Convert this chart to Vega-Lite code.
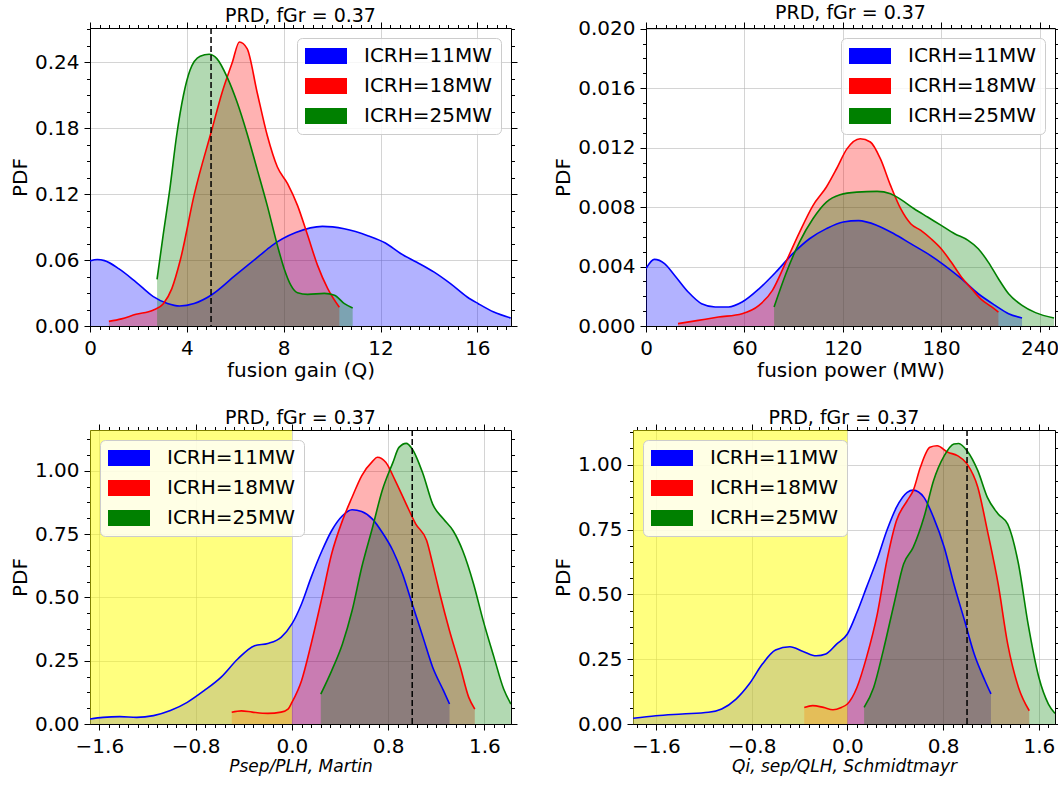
{
"$schema": "https://vega.github.io/schema/vega-lite/v6.json",
"padding": {"left": 10, "top": 3, "right": 2, "bottom": 2},
"background": "white",
"datasets": {
"p1": [
{"s":"ICRH=11MW","x":0,"y":0.0592},{"s":"ICRH=11MW","x":0.3,"y":0.0605},{"s":"ICRH=11MW","x":0.6,"y":0.0595},{"s":"ICRH=11MW","x":1.2,"y":0.052},{"s":"ICRH=11MW","x":1.9,"y":0.040},{"s":"ICRH=11MW","x":2.6,"y":0.027},{"s":"ICRH=11MW","x":3.2,"y":0.0205},{"s":"ICRH=11MW","x":3.7,"y":0.0182},{"s":"ICRH=11MW","x":4.3,"y":0.0205},{"s":"ICRH=11MW","x":5.0,"y":0.028},{"s":"ICRH=11MW","x":6.0,"y":0.046},{"s":"ICRH=11MW","x":7.0,"y":0.064},{"s":"ICRH=11MW","x":7.5,"y":0.073},{"s":"ICRH=11MW","x":8.5,"y":0.085},{"s":"ICRH=11MW","x":9.6,"y":0.0907},{"s":"ICRH=11MW","x":10.5,"y":0.0885},{"s":"ICRH=11MW","x":11.5,"y":0.082},{"s":"ICRH=11MW","x":12.2,"y":0.0755},{"s":"ICRH=11MW","x":12.83,"y":0.066},{"s":"ICRH=11MW","x":13.5,"y":0.058},{"s":"ICRH=11MW","x":14.2,"y":0.0492},{"s":"ICRH=11MW","x":14.89,"y":0.0385},{"s":"ICRH=11MW","x":15.58,"y":0.0264},{"s":"ICRH=11MW","x":16.04,"y":0.0203},{"s":"ICRH=11MW","x":16.68,"y":0.0127},{"s":"ICRH=11MW","x":17.38,"y":0.0073},
{"s":"ICRH=18MW","x":0.78,"y":0.0042},{"s":"ICRH=18MW","x":1.3,"y":0.0065},{"s":"ICRH=18MW","x":1.9,"y":0.0106},{"s":"ICRH=18MW","x":2.6,"y":0.0143},{"s":"ICRH=18MW","x":3.03,"y":0.0203},{"s":"ICRH=18MW","x":3.38,"y":0.034},{"s":"ICRH=18MW","x":3.73,"y":0.06},{"s":"ICRH=18MW","x":4.31,"y":0.12},{"s":"ICRH=18MW","x":5.05,"y":0.18},{"s":"ICRH=18MW","x":5.45,"y":0.212},{"s":"ICRH=18MW","x":5.88,"y":0.24},{"s":"ICRH=18MW","x":6.17,"y":0.2585},{"s":"ICRH=18MW","x":6.49,"y":0.2525},{"s":"ICRH=18MW","x":6.9,"y":0.213},{"s":"ICRH=18MW","x":7.32,"y":0.1736},{"s":"ICRH=18MW","x":7.74,"y":0.1447},{"s":"ICRH=18MW","x":8.16,"y":0.1296},{"s":"ICRH=18MW","x":8.57,"y":0.1098},{"s":"ICRH=18MW","x":8.99,"y":0.0825},{"s":"ICRH=18MW","x":9.4,"y":0.0552},{"s":"ICRH=18MW","x":9.82,"y":0.034},{"s":"ICRH=18MW","x":10.3,"y":0.017},
{"s":"ICRH=25MW","x":2.77,"y":0.0425},{"s":"ICRH=25MW","x":3.02,"y":0.0825},{"s":"ICRH=25MW","x":3.3,"y":0.125},{"s":"ICRH=25MW","x":3.58,"y":0.1736},{"s":"ICRH=25MW","x":3.86,"y":0.21},{"s":"ICRH=25MW","x":4.13,"y":0.2327},{"s":"ICRH=25MW","x":4.55,"y":0.2455},{"s":"ICRH=25MW","x":4.92,"y":0.2473},{"s":"ICRH=25MW","x":5.24,"y":0.2433},{"s":"ICRH=25MW","x":5.66,"y":0.2267},{"s":"ICRH=25MW","x":6.07,"y":0.204},{"s":"ICRH=25MW","x":6.49,"y":0.175},{"s":"ICRH=25MW","x":6.9,"y":0.143},{"s":"ICRH=25MW","x":7.32,"y":0.1098},{"s":"ICRH=25MW","x":7.74,"y":0.0734},{"s":"ICRH=25MW","x":8.02,"y":0.0522},{"s":"ICRH=25MW","x":8.3,"y":0.037},{"s":"ICRH=25MW","x":8.57,"y":0.0303},{"s":"ICRH=25MW","x":8.99,"y":0.0288},{"s":"ICRH=25MW","x":9.68,"y":0.0297},{"s":"ICRH=25MW","x":10.1,"y":0.028},{"s":"ICRH=25MW","x":10.51,"y":0.0203},{"s":"ICRH=25MW","x":10.85,"y":0.0164}
],
"p2": [
{"s":"ICRH=11MW","x":0,"y":0.00386},{"s":"ICRH=11MW","x":5.1,"y":0.00448},{"s":"ICRH=11MW","x":11.3,"y":0.0042},{"s":"ICRH=11MW","x":17.5,"y":0.0034},{"s":"ICRH=11MW","x":25.7,"y":0.00229},{"s":"ICRH=11MW","x":33.9,"y":0.0015},{"s":"ICRH=11MW","x":42.2,"y":0.00128},{"s":"ICRH=11MW","x":50.4,"y":0.00128},{"s":"ICRH=11MW","x":58.6,"y":0.00161},{"s":"ICRH=11MW","x":68.9,"y":0.0025},{"s":"ICRH=11MW","x":79.2,"y":0.00363},{"s":"ICRH=11MW","x":89.5,"y":0.00487},{"s":"ICRH=11MW","x":99.7,"y":0.00587},{"s":"ICRH=11MW","x":110,"y":0.00655},{"s":"ICRH=11MW","x":120.3,"y":0.007},{"s":"ICRH=11MW","x":129.6,"y":0.00709},{"s":"ICRH=11MW","x":140.9,"y":0.00677},{"s":"ICRH=11MW","x":151.2,"y":0.00621},{"s":"ICRH=11MW","x":161.4,"y":0.00554},{"s":"ICRH=11MW","x":171.7,"y":0.00487},{"s":"ICRH=11MW","x":182,"y":0.00408},{"s":"ICRH=11MW","x":192.3,"y":0.00318},{"s":"ICRH=11MW","x":202.6,"y":0.00217},{"s":"ICRH=11MW","x":212.9,"y":0.00139},{"s":"ICRH=11MW","x":221.1,"y":0.00083},{"s":"ICRH=11MW","x":229.3,"y":0.00054},
{"s":"ICRH=18MW","x":19.5,"y":0.00016},{"s":"ICRH=18MW","x":31.9,"y":0.00038},{"s":"ICRH=18MW","x":44.2,"y":0.0006},{"s":"ICRH=18MW","x":58.6,"y":0.00083},{"s":"ICRH=18MW","x":68.9,"y":0.00139},{"s":"ICRH=18MW","x":77.1,"y":0.0024},{"s":"ICRH=18MW","x":85.3,"y":0.0043},{"s":"ICRH=18MW","x":93.6,"y":0.0063},{"s":"ICRH=18MW","x":101.8,"y":0.0081},{"s":"ICRH=18MW","x":110,"y":0.00935},{"s":"ICRH=18MW","x":116.2,"y":0.01058},{"s":"ICRH=18MW","x":122.4,"y":0.0119},{"s":"ICRH=18MW","x":130.6,"y":0.0126},{"s":"ICRH=18MW","x":136.8,"y":0.01238},{"s":"ICRH=18MW","x":142.9,"y":0.01126},{"s":"ICRH=18MW","x":149.1,"y":0.00946},{"s":"ICRH=18MW","x":155.3,"y":0.00789},{"s":"ICRH=18MW","x":161.4,"y":0.00688},{"s":"ICRH=18MW","x":167.6,"y":0.00643},{"s":"ICRH=18MW","x":173.8,"y":0.00587},{"s":"ICRH=18MW","x":180,"y":0.0052},{"s":"ICRH=18MW","x":186.1,"y":0.0043},{"s":"ICRH=18MW","x":192.3,"y":0.0033},{"s":"ICRH=18MW","x":198.5,"y":0.00251},{"s":"ICRH=18MW","x":204.6,"y":0.00177},{"s":"ICRH=18MW","x":210.8,"y":0.00128},{"s":"ICRH=18MW","x":214.9,"y":0.00094},
{"s":"ICRH=25MW","x":78.1,"y":0.00128},{"s":"ICRH=25MW","x":85.3,"y":0.00352},{"s":"ICRH=25MW","x":93.6,"y":0.00565},{"s":"ICRH=25MW","x":101.8,"y":0.00722},{"s":"ICRH=25MW","x":110,"y":0.00834},{"s":"ICRH=25MW","x":118.3,"y":0.00883},{"s":"ICRH=25MW","x":128.5,"y":0.00901},{"s":"ICRH=25MW","x":140.9,"y":0.00906},{"s":"ICRH=25MW","x":149.1,"y":0.0089},{"s":"ICRH=25MW","x":155.3,"y":0.00852},{"s":"ICRH=25MW","x":163.5,"y":0.00789},{"s":"ICRH=25MW","x":171.7,"y":0.00733},{"s":"ICRH=25MW","x":180,"y":0.00677},{"s":"ICRH=25MW","x":188.2,"y":0.00621},{"s":"ICRH=25MW","x":196.4,"y":0.00576},{"s":"ICRH=25MW","x":202.6,"y":0.0052},{"s":"ICRH=25MW","x":208.7,"y":0.0043},{"s":"ICRH=25MW","x":214.9,"y":0.00318},{"s":"ICRH=25MW","x":221.1,"y":0.00217},{"s":"ICRH=25MW","x":229.3,"y":0.00139},{"s":"ICRH=25MW","x":237.5,"y":0.0009},{"s":"ICRH=25MW","x":248.8,"y":0.00054}
],
"p3": [
{"s":"ICRH=11MW","x":-1.678,"y":0.0197},{"s":"ICRH=11MW","x":-1.57,"y":0.026},{"s":"ICRH=11MW","x":-1.43,"y":0.029},{"s":"ICRH=11MW","x":-1.29,"y":0.026},{"s":"ICRH=11MW","x":-1.15,"y":0.033},{"s":"ICRH=11MW","x":-1.01,"y":0.053},{"s":"ICRH=11MW","x":-0.87,"y":0.0855},{"s":"ICRH=11MW","x":-0.73,"y":0.1316},{"s":"ICRH=11MW","x":-0.59,"y":0.184},{"s":"ICRH=11MW","x":-0.45,"y":0.2566},{"s":"ICRH=11MW","x":-0.31,"y":0.309},{"s":"ICRH=11MW","x":-0.2,"y":0.318},{"s":"ICRH=11MW","x":-0.09,"y":0.342},{"s":"ICRH=11MW","x":0,"y":0.395},{"s":"ICRH=11MW","x":0.08,"y":0.474},{"s":"ICRH=11MW","x":0.16,"y":0.579},{"s":"ICRH=11MW","x":0.25,"y":0.684},{"s":"ICRH=11MW","x":0.33,"y":0.763},{"s":"ICRH=11MW","x":0.42,"y":0.822},{"s":"ICRH=11MW","x":0.5,"y":0.846},{"s":"ICRH=11MW","x":0.58,"y":0.839},{"s":"ICRH=11MW","x":0.67,"y":0.809},{"s":"ICRH=11MW","x":0.75,"y":0.757},{"s":"ICRH=11MW","x":0.84,"y":0.684},{"s":"ICRH=11MW","x":0.92,"y":0.592},{"s":"ICRH=11MW","x":1.0,"y":0.474},{"s":"ICRH=11MW","x":1.09,"y":0.342},{"s":"ICRH=11MW","x":1.17,"y":0.224},{"s":"ICRH=11MW","x":1.26,"y":0.1316},{"s":"ICRH=11MW","x":1.31,"y":0.079},
{"s":"ICRH=18MW","x":-0.5,"y":0.046},{"s":"ICRH=18MW","x":-0.42,"y":0.052},{"s":"ICRH=18MW","x":-0.33,"y":0.047},{"s":"ICRH=18MW","x":-0.2,"y":0.042},{"s":"ICRH=18MW","x":-0.09,"y":0.047},{"s":"ICRH=18MW","x":-0.03,"y":0.06},{"s":"ICRH=18MW","x":0,"y":0.085},{"s":"ICRH=18MW","x":0.08,"y":0.171},{"s":"ICRH=18MW","x":0.16,"y":0.316},{"s":"ICRH=18MW","x":0.25,"y":0.5},{"s":"ICRH=18MW","x":0.33,"y":0.671},{"s":"ICRH=18MW","x":0.42,"y":0.803},{"s":"ICRH=18MW","x":0.5,"y":0.895},{"s":"ICRH=18MW","x":0.58,"y":0.98},{"s":"ICRH=18MW","x":0.67,"y":1.037},{"s":"ICRH=18MW","x":0.71,"y":1.053},{"s":"ICRH=18MW","x":0.78,"y":1.033},{"s":"ICRH=18MW","x":0.86,"y":0.96},{"s":"ICRH=18MW","x":0.95,"y":0.868},{"s":"ICRH=18MW","x":1.03,"y":0.789},{"s":"ICRH=18MW","x":1.12,"y":0.724},{"s":"ICRH=18MW","x":1.17,"y":0.632},{"s":"ICRH=18MW","x":1.23,"y":0.513},{"s":"ICRH=18MW","x":1.31,"y":0.368},{"s":"ICRH=18MW","x":1.4,"y":0.224},{"s":"ICRH=18MW","x":1.47,"y":0.105},{"s":"ICRH=18MW","x":1.52,"y":0.059},
{"s":"ICRH=25MW","x":0.24,"y":0.118},{"s":"ICRH=25MW","x":0.33,"y":0.21},{"s":"ICRH=25MW","x":0.42,"y":0.316},{"s":"ICRH=25MW","x":0.5,"y":0.447},{"s":"ICRH=25MW","x":0.58,"y":0.618},{"s":"ICRH=25MW","x":0.67,"y":0.776},{"s":"ICRH=25MW","x":0.75,"y":0.921},{"s":"ICRH=25MW","x":0.84,"y":1.033},{"s":"ICRH=25MW","x":0.89,"y":1.092},{"s":"ICRH=25MW","x":0.95,"y":1.108},{"s":"ICRH=25MW","x":1.0,"y":1.086},{"s":"ICRH=25MW","x":1.09,"y":0.987},{"s":"ICRH=25MW","x":1.17,"y":0.868},{"s":"ICRH=25MW","x":1.26,"y":0.809},{"s":"ICRH=25MW","x":1.34,"y":0.763},{"s":"ICRH=25MW","x":1.42,"y":0.684},{"s":"ICRH=25MW","x":1.51,"y":0.553},{"s":"ICRH=25MW","x":1.59,"y":0.408},{"s":"ICRH=25MW","x":1.68,"y":0.263},{"s":"ICRH=25MW","x":1.76,"y":0.138},{"s":"ICRH=25MW","x":1.82,"y":0.079}
],
"p4": [
{"s":"ICRH=11MW","x":-1.79,"y":0.022},{"s":"ICRH=11MW","x":-1.6,"y":0.032},{"s":"ICRH=11MW","x":-1.38,"y":0.0386},{"s":"ICRH=11MW","x":-1.16,"y":0.045},{"s":"ICRH=11MW","x":-1.05,"y":0.058},{"s":"ICRH=11MW","x":-0.93,"y":0.096},{"s":"ICRH=11MW","x":-0.82,"y":0.154},{"s":"ICRH=11MW","x":-0.71,"y":0.231},{"s":"ICRH=11MW","x":-0.6,"y":0.285},{"s":"ICRH=11MW","x":-0.48,"y":0.298},{"s":"ICRH=11MW","x":-0.37,"y":0.28},{"s":"ICRH=11MW","x":-0.26,"y":0.263},{"s":"ICRH=11MW","x":-0.18,"y":0.27},{"s":"ICRH=11MW","x":-0.09,"y":0.308},{"s":"ICRH=11MW","x":0,"y":0.347},{"s":"ICRH=11MW","x":0.08,"y":0.43},{"s":"ICRH=11MW","x":0.16,"y":0.527},{"s":"ICRH=11MW","x":0.25,"y":0.636},{"s":"ICRH=11MW","x":0.33,"y":0.746},{"s":"ICRH=11MW","x":0.41,"y":0.835},{"s":"ICRH=11MW","x":0.5,"y":0.893},{"s":"ICRH=11MW","x":0.55,"y":0.902},{"s":"ICRH=11MW","x":0.64,"y":0.874},{"s":"ICRH=11MW","x":0.72,"y":0.797},{"s":"ICRH=11MW","x":0.81,"y":0.681},{"s":"ICRH=11MW","x":0.89,"y":0.54},{"s":"ICRH=11MW","x":0.98,"y":0.398},{"s":"ICRH=11MW","x":1.06,"y":0.27},{"s":"ICRH=11MW","x":1.15,"y":0.167},{"s":"ICRH=11MW","x":1.2,"y":0.116},
{"s":"ICRH=18MW","x":-0.36,"y":0.064},{"s":"ICRH=18MW","x":-0.29,"y":0.071},{"s":"ICRH=18MW","x":-0.2,"y":0.064},{"s":"ICRH=18MW","x":-0.12,"y":0.055},{"s":"ICRH=18MW","x":-0.05,"y":0.064},{"s":"ICRH=18MW","x":0,"y":0.077},{"s":"ICRH=18MW","x":0.08,"y":0.141},{"s":"ICRH=18MW","x":0.16,"y":0.257},{"s":"ICRH=18MW","x":0.25,"y":0.424},{"s":"ICRH=18MW","x":0.33,"y":0.63},{"s":"ICRH=18MW","x":0.41,"y":0.784},{"s":"ICRH=18MW","x":0.5,"y":0.861},{"s":"ICRH=18MW","x":0.55,"y":0.9},{"s":"ICRH=18MW","x":0.61,"y":0.99},{"s":"ICRH=18MW","x":0.69,"y":1.067},{"s":"ICRH=18MW","x":0.75,"y":1.073},{"s":"ICRH=18MW","x":0.84,"y":1.048},{"s":"ICRH=18MW","x":0.92,"y":1.035},{"s":"ICRH=18MW","x":1.0,"y":1.003},{"s":"ICRH=18MW","x":1.09,"y":0.913},{"s":"ICRH=18MW","x":1.17,"y":0.746},{"s":"ICRH=18MW","x":1.26,"y":0.54},{"s":"ICRH=18MW","x":1.34,"y":0.308},{"s":"ICRH=18MW","x":1.43,"y":0.141},{"s":"ICRH=18MW","x":1.52,"y":0.051},
{"s":"ICRH=25MW","x":0.14,"y":0.064},{"s":"ICRH=25MW","x":0.22,"y":0.141},{"s":"ICRH=25MW","x":0.3,"y":0.283},{"s":"ICRH=25MW","x":0.39,"y":0.463},{"s":"ICRH=25MW","x":0.47,"y":0.617},{"s":"ICRH=25MW","x":0.55,"y":0.681},{"s":"ICRH=25MW","x":0.64,"y":0.797},{"s":"ICRH=25MW","x":0.72,"y":0.938},{"s":"ICRH=25MW","x":0.81,"y":1.035},{"s":"ICRH=25MW","x":0.89,"y":1.08},{"s":"ICRH=25MW","x":0.93,"y":1.082},{"s":"ICRH=25MW","x":1.0,"y":1.054},{"s":"ICRH=25MW","x":1.09,"y":0.977},{"s":"ICRH=25MW","x":1.17,"y":0.874},{"s":"ICRH=25MW","x":1.26,"y":0.81},{"s":"ICRH=25MW","x":1.34,"y":0.771},{"s":"ICRH=25MW","x":1.43,"y":0.617},{"s":"ICRH=25MW","x":1.51,"y":0.386},{"s":"ICRH=25MW","x":1.6,"y":0.18},{"s":"ICRH=25MW","x":1.68,"y":0.077},{"s":"ICRH=25MW","x":1.735,"y":0.041}
]
},
"bounds": "full",
"spacing": 28,
"resolve": {"scale": {"color": "independent"}},
"vconcat": [
{
"hconcat": [
{
"width": 421, "height": 298,
"title": {"text": "PRD, fGr = 0.37"},
"data": {"name": "p1"},
"resolve": {"axis": {"x": "independent", "y": "independent"}},
"layer": [
{"mark": {"type": "area", "fillOpacity": 0.3, "interpolate": "monotone", "clip": true},
 "encoding": {
  "x": {"field": "x", "type": "quantitative", "scale": {"domain": [0, 17.39], "nice": false, "zero": false}, "axis": {"orient": "bottom", "values": [0,4,8,12,16], "format": "d", "grid": true, "domain": true, "title": "fusion gain (Q)"}},
  "y": {"field": "y", "type": "quantitative", "stack": null, "scale": {"domain": [0, 0.2712], "nice": false, "zero": false}, "axis": {"orient": "left", "values": [0,0.06,0.12,0.18,0.24], "format": ".2f", "grid": true, "domain": true, "title": "PDF"}},
  "color": {"field": "s", "type": "nominal", "scale": {"domain": ["ICRH=11MW","ICRH=18MW","ICRH=25MW"], "range": ["#0000ff","#ff0000","#008000"]}, "legend": {"title": null, "orient": "top-right", "offset": 10, "zindex": 2, "encode": {"symbols": {"update": {"fillOpacity": {"value": 1}, "opacity": {"value": 1}, "strokeWidth": {"value": 0}}}}}}
 }},
{"mark": {"type": "line", "strokeWidth": 1.6, "interpolate": "monotone", "clip": true},
 "encoding": {
  "x": {"field": "x", "type": "quantitative", "scale": {"domain": [0, 17.39], "nice": false, "zero": false}, "axis": {"orient": "top", "values": [0,4,8,12,16], "labels": false, "grid": false, "domain": true, "title": null}},
  "y": {"field": "y", "type": "quantitative", "scale": {"domain": [0, 0.2712], "nice": false, "zero": false}, "axis": {"orient": "right", "values": [0,0.06,0.12,0.18,0.24], "labels": false, "grid": false, "domain": true, "title": null}},
  "color": {"field": "s", "type": "nominal", "scale": {"domain": ["ICRH=11MW","ICRH=18MW","ICRH=25MW"], "range": ["#0000ff","#ff0000","#008000"]}, "legend": null}
 }},
{"data": {"values": [{"v": 5}]},
 "mark": {"type": "rule", "color": "black", "strokeWidth": 1.5, "strokeDash": [6, 3]},
 "encoding": {"x": {"field": "v", "type": "quantitative", "scale": {"domain": [0, 17.39], "nice": false, "zero": false}, "axis": null}}},
{"mark": {"type": "point", "opacity": 0},
 "encoding": {
  "x": {"field": "x", "type": "quantitative", "scale": {"domain": [0, 17.39], "nice": false, "zero": false}, "axis": {"orient": "bottom", "values": [0,0.4,0.8,1.2,1.6,2,2.4,2.8,3.2,3.6,4,4.4,4.8,5.2,5.6,6,6.4,6.8,7.2,7.6,8,8.4,8.8,9.2,9.6,10,10.4,10.8,11.2,11.6,12,12.4,12.8,13.2,13.6,14,14.4,14.8,15.2,15.6,16,16.4,16.8,17.2], "labels": false, "grid": false, "domain": false, "title": null, "tickSize": 3.5}},
  "y": {"field": "y", "type": "quantitative", "scale": {"domain": [0, 0.2712], "nice": false, "zero": false}, "axis": {"orient": "left", "values": [0,0.015,0.03,0.045,0.06,0.075,0.09,0.105,0.12,0.135,0.15,0.165,0.18,0.195,0.21,0.225,0.24,0.255,0.27], "labels": false, "grid": false, "domain": false, "title": null, "tickSize": 3.5}}
 }},
{"mark": {"type": "point", "opacity": 0},
 "encoding": {
  "x": {"field": "x", "type": "quantitative", "scale": {"domain": [0, 17.39], "nice": false, "zero": false}, "axis": {"orient": "top", "values": [0,0.4,0.8,1.2,1.6,2,2.4,2.8,3.2,3.6,4,4.4,4.8,5.2,5.6,6,6.4,6.8,7.2,7.6,8,8.4,8.8,9.2,9.6,10,10.4,10.8,11.2,11.6,12,12.4,12.8,13.2,13.6,14,14.4,14.8,15.2,15.6,16,16.4,16.8,17.2], "labels": false, "grid": false, "domain": false, "title": null, "tickSize": 3.5}},
  "y": {"field": "y", "type": "quantitative", "scale": {"domain": [0, 0.2712], "nice": false, "zero": false}, "axis": {"orient": "right", "values": [0,0.015,0.03,0.045,0.06,0.075,0.09,0.105,0.12,0.135,0.15,0.165,0.18,0.195,0.21,0.225,0.24,0.255,0.27], "labels": false, "grid": false, "domain": false, "title": null, "tickSize": 3.5}}
 }}
]
},
{
"width": 409, "height": 298,
"title": {"text": "PRD, fGr = 0.37"},
"data": {"name": "p2"},
"resolve": {"axis": {"x": "independent", "y": "independent"}},
"layer": [
{"mark": {"type": "area", "fillOpacity": 0.3, "interpolate": "monotone", "clip": true},
 "encoding": {
  "x": {"field": "x", "type": "quantitative", "scale": {"domain": [0, 249.4], "nice": false, "zero": false}, "axis": {"orient": "bottom", "values": [0,60,120,180,240], "format": "d", "grid": true, "domain": true, "title": "fusion power (MW)"}},
  "y": {"field": "y", "type": "quantitative", "stack": null, "scale": {"domain": [0, 0.02005], "nice": false, "zero": false}, "axis": {"orient": "left", "values": [0,0.004,0.008,0.012,0.016,0.02], "format": ".3f", "grid": true, "domain": true, "title": "PDF"}},
  "color": {"field": "s", "type": "nominal", "scale": {"domain": ["ICRH=11MW","ICRH=18MW","ICRH=25MW"], "range": ["#0000ff","#ff0000","#008000"]}, "legend": {"title": null, "orient": "top-right", "offset": 10, "zindex": 2, "encode": {"symbols": {"update": {"fillOpacity": {"value": 1}, "opacity": {"value": 1}, "strokeWidth": {"value": 0}}}}}}
 }},
{"mark": {"type": "line", "strokeWidth": 1.6, "interpolate": "monotone", "clip": true},
 "encoding": {
  "x": {"field": "x", "type": "quantitative", "scale": {"domain": [0, 249.4], "nice": false, "zero": false}, "axis": {"orient": "top", "values": [0,60,120,180,240], "labels": false, "grid": false, "domain": true, "title": null}},
  "y": {"field": "y", "type": "quantitative", "scale": {"domain": [0, 0.02005], "nice": false, "zero": false}, "axis": {"orient": "right", "values": [0,0.004,0.008,0.012,0.016,0.02], "labels": false, "grid": false, "domain": true, "title": null}},
  "color": {"field": "s", "type": "nominal", "scale": {"domain": ["ICRH=11MW","ICRH=18MW","ICRH=25MW"], "range": ["#0000ff","#ff0000","#008000"]}, "legend": null}
 }},
{"mark": {"type": "point", "opacity": 0},
 "encoding": {
  "x": {"field": "x", "type": "quantitative", "scale": {"domain": [0, 249.4], "nice": false, "zero": false}, "axis": {"orient": "bottom", "values": [0,6,12,18,24,30,36,42,48,54,60,66,72,78,84,90,96,102,108,114,120,126,132,138,144,150,156,162,168,174,180,186,192,198,204,210,216,222,228,234,240,246], "labels": false, "grid": false, "domain": false, "title": null, "tickSize": 3.5}},
  "y": {"field": "y", "type": "quantitative", "scale": {"domain": [0, 0.02005], "nice": false, "zero": false}, "axis": {"orient": "left", "values": [0,0.001,0.002,0.003,0.004,0.005,0.006,0.007,0.008,0.009,0.01,0.011,0.012,0.013,0.014,0.015,0.016,0.017,0.018,0.019,0.02], "labels": false, "grid": false, "domain": false, "title": null, "tickSize": 3.5}}
 }},
{"mark": {"type": "point", "opacity": 0},
 "encoding": {
  "x": {"field": "x", "type": "quantitative", "scale": {"domain": [0, 249.4], "nice": false, "zero": false}, "axis": {"orient": "top", "values": [0,6,12,18,24,30,36,42,48,54,60,66,72,78,84,90,96,102,108,114,120,126,132,138,144,150,156,162,168,174,180,186,192,198,204,210,216,222,228,234,240,246], "labels": false, "grid": false, "domain": false, "title": null, "tickSize": 3.5}},
  "y": {"field": "y", "type": "quantitative", "scale": {"domain": [0, 0.02005], "nice": false, "zero": false}, "axis": {"orient": "right", "values": [0,0.001,0.002,0.003,0.004,0.005,0.006,0.007,0.008,0.009,0.01,0.011,0.012,0.013,0.014,0.015,0.016,0.017,0.018,0.019,0.02], "labels": false, "grid": false, "domain": false, "title": null, "tickSize": 3.5}}
 }}
]
}
],
"spacing": 135,
"bounds": "flush",
"resolve": {"scale": {"color": "independent"}}
},
{
"hconcat": [
{
"width": 421, "height": 294,
"title": {"text": "PRD, fGr = 0.37"},
"data": {"name": "p3"},
"resolve": {"axis": {"x": "independent", "y": "independent"}},
"layer": [
{"mark": {"type": "area", "fillOpacity": 0.3, "interpolate": "monotone", "clip": true},
 "encoding": {
  "x": {"field": "x", "type": "quantitative", "scale": {"domain": [-1.678, 1.821], "nice": false, "zero": false}, "axis": {"orient": "bottom", "values": [-1.6,-0.8,0,0.8,1.6], "format": ".1f", "grid": true, "domain": true, "title": "Psep/PLH, Martin", "titleFontStyle": "italic", "titleFontSize": 17}},
  "y": {"field": "y", "type": "quantitative", "stack": null, "scale": {"domain": [0, 1.1607], "nice": false, "zero": false}, "axis": {"orient": "left", "values": [0,0.25,0.5,0.75,1], "format": ".2f", "grid": true, "domain": true, "title": "PDF"}},
  "color": {"field": "s", "type": "nominal", "scale": {"domain": ["ICRH=11MW","ICRH=18MW","ICRH=25MW"], "range": ["#0000ff","#ff0000","#008000"]}, "legend": {"title": null, "orient": "top-left", "offset": 10, "zindex": 2, "encode": {"symbols": {"update": {"fillOpacity": {"value": 1}, "opacity": {"value": 1}, "strokeWidth": {"value": 0}}}}}}
 }},
{"data": {"values": [{"a": -1.678, "b": 0}]},
 "mark": {"type": "rect", "color": "#ffff00", "opacity": 0.5},
 "encoding": {"x": {"field": "a", "type": "quantitative", "scale": {"domain": [-1.678, 1.821], "nice": false, "zero": false}, "axis": null}, "x2": {"field": "b"}}},
{"mark": {"type": "line", "strokeWidth": 1.6, "interpolate": "monotone", "clip": true},
 "encoding": {
  "x": {"field": "x", "type": "quantitative", "scale": {"domain": [-1.678, 1.821], "nice": false, "zero": false}, "axis": {"orient": "top", "values": [-1.6,-0.8,0,0.8,1.6], "labels": false, "grid": false, "domain": true, "title": null}},
  "y": {"field": "y", "type": "quantitative", "scale": {"domain": [0, 1.1607], "nice": false, "zero": false}, "axis": {"orient": "right", "values": [0,0.25,0.5,0.75,1], "labels": false, "grid": false, "domain": true, "title": null}},
  "color": {"field": "s", "type": "nominal", "scale": {"domain": ["ICRH=11MW","ICRH=18MW","ICRH=25MW"], "range": ["#0000ff","#ff0000","#008000"]}, "legend": null}
 }},
{"data": {"values": [{"v": 1.0}]},
 "mark": {"type": "rule", "color": "black", "strokeWidth": 1.5, "strokeDash": [6, 3]},
 "encoding": {"x": {"field": "v", "type": "quantitative", "scale": {"domain": [-1.678, 1.821], "nice": false, "zero": false}, "axis": null}}},
{"mark": {"type": "point", "opacity": 0},
 "encoding": {
  "x": {"field": "x", "type": "quantitative", "scale": {"domain": [-1.678, 1.821], "nice": false, "zero": false}, "axis": {"orient": "bottom", "values": [-1.6,-1.52,-1.44,-1.36,-1.28,-1.2,-1.12,-1.04,-0.96,-0.88,-0.8,-0.72,-0.64,-0.56,-0.48,-0.4,-0.32,-0.24,-0.16,-0.08,0,0.08,0.16,0.24,0.32,0.4,0.48,0.56,0.64,0.72,0.8,0.88,0.96,1.04,1.12,1.2,1.28,1.36,1.44,1.52,1.6,1.68,1.76], "labels": false, "grid": false, "domain": false, "title": null, "tickSize": 3.5}},
  "y": {"field": "y", "type": "quantitative", "scale": {"domain": [0, 1.1607], "nice": false, "zero": false}, "axis": {"orient": "left", "values": [0,0.0625,0.125,0.1875,0.25,0.3125,0.375,0.4375,0.5,0.5625,0.625,0.6875,0.75,0.8125,0.875,0.9375,1,1.0625,1.125], "labels": false, "grid": false, "domain": false, "title": null, "tickSize": 3.5}}
 }},
{"mark": {"type": "point", "opacity": 0},
 "encoding": {
  "x": {"field": "x", "type": "quantitative", "scale": {"domain": [-1.678, 1.821], "nice": false, "zero": false}, "axis": {"orient": "top", "values": [-1.6,-1.52,-1.44,-1.36,-1.28,-1.2,-1.12,-1.04,-0.96,-0.88,-0.8,-0.72,-0.64,-0.56,-0.48,-0.4,-0.32,-0.24,-0.16,-0.08,0,0.08,0.16,0.24,0.32,0.4,0.48,0.56,0.64,0.72,0.8,0.88,0.96,1.04,1.12,1.2,1.28,1.36,1.44,1.52,1.6,1.68,1.76], "labels": false, "grid": false, "domain": false, "title": null, "tickSize": 3.5}},
  "y": {"field": "y", "type": "quantitative", "scale": {"domain": [0, 1.1607], "nice": false, "zero": false}, "axis": {"orient": "right", "values": [0,0.0625,0.125,0.1875,0.25,0.3125,0.375,0.4375,0.5,0.5625,0.625,0.6875,0.75,0.8125,0.875,0.9375,1,1.0625,1.125], "labels": false, "grid": false, "domain": false, "title": null, "tickSize": 3.5}}
 }}
]
},
{
"width": 422, "height": 294,
"title": {"text": "PRD, fGr = 0.37"},
"data": {"name": "p4"},
"resolve": {"axis": {"x": "independent", "y": "independent"}},
"layer": [
{"mark": {"type": "area", "fillOpacity": 0.3, "interpolate": "monotone", "clip": true},
 "encoding": {
  "x": {"field": "x", "type": "quantitative", "scale": {"domain": [-1.791, 1.735], "nice": false, "zero": false}, "axis": {"orient": "bottom", "values": [-1.6,-0.8,0,0.8,1.6], "format": ".1f", "grid": true, "domain": true, "title": "Qi, sep/QLH, Schmidtmayr", "titleFontStyle": "italic", "titleFontSize": 17}},
  "y": {"field": "y", "type": "quantitative", "stack": null, "scale": {"domain": [0, 1.1338], "nice": false, "zero": false}, "axis": {"orient": "left", "values": [0,0.25,0.5,0.75,1], "format": ".2f", "grid": true, "domain": true, "title": "PDF"}},
  "color": {"field": "s", "type": "nominal", "scale": {"domain": ["ICRH=11MW","ICRH=18MW","ICRH=25MW"], "range": ["#0000ff","#ff0000","#008000"]}, "legend": {"title": null, "orient": "top-left", "offset": 10, "zindex": 2, "encode": {"symbols": {"update": {"fillOpacity": {"value": 1}, "opacity": {"value": 1}, "strokeWidth": {"value": 0}}}}}}
 }},
{"data": {"values": [{"a": -1.791, "b": 0}]},
 "mark": {"type": "rect", "color": "#ffff00", "opacity": 0.5},
 "encoding": {"x": {"field": "a", "type": "quantitative", "scale": {"domain": [-1.791, 1.735], "nice": false, "zero": false}, "axis": null}, "x2": {"field": "b"}}},
{"mark": {"type": "line", "strokeWidth": 1.6, "interpolate": "monotone", "clip": true},
 "encoding": {
  "x": {"field": "x", "type": "quantitative", "scale": {"domain": [-1.791, 1.735], "nice": false, "zero": false}, "axis": {"orient": "top", "values": [-1.6,-0.8,0,0.8,1.6], "labels": false, "grid": false, "domain": true, "title": null}},
  "y": {"field": "y", "type": "quantitative", "scale": {"domain": [0, 1.1338], "nice": false, "zero": false}, "axis": {"orient": "right", "values": [0,0.25,0.5,0.75,1], "labels": false, "grid": false, "domain": true, "title": null}},
  "color": {"field": "s", "type": "nominal", "scale": {"domain": ["ICRH=11MW","ICRH=18MW","ICRH=25MW"], "range": ["#0000ff","#ff0000","#008000"]}, "legend": null}
 }},
{"data": {"values": [{"v": 1.0}]},
 "mark": {"type": "rule", "color": "black", "strokeWidth": 1.5, "strokeDash": [6, 3]},
 "encoding": {"x": {"field": "v", "type": "quantitative", "scale": {"domain": [-1.791, 1.735], "nice": false, "zero": false}, "axis": null}}},
{"mark": {"type": "point", "opacity": 0},
 "encoding": {
  "x": {"field": "x", "type": "quantitative", "scale": {"domain": [-1.791, 1.735], "nice": false, "zero": false}, "axis": {"orient": "bottom", "values": [-1.76,-1.68,-1.6,-1.52,-1.44,-1.36,-1.28,-1.2,-1.12,-1.04,-0.96,-0.88,-0.8,-0.72,-0.64,-0.56,-0.48,-0.4,-0.32,-0.24,-0.16,-0.08,0,0.08,0.16,0.24,0.32,0.4,0.48,0.56,0.64,0.72,0.8,0.88,0.96,1.04,1.12,1.2,1.28,1.36,1.44,1.52,1.6,1.68], "labels": false, "grid": false, "domain": false, "title": null, "tickSize": 3.5}},
  "y": {"field": "y", "type": "quantitative", "scale": {"domain": [0, 1.1338], "nice": false, "zero": false}, "axis": {"orient": "left", "values": [0,0.0625,0.125,0.1875,0.25,0.3125,0.375,0.4375,0.5,0.5625,0.625,0.6875,0.75,0.8125,0.875,0.9375,1,1.0625,1.125], "labels": false, "grid": false, "domain": false, "title": null, "tickSize": 3.5}}
 }},
{"mark": {"type": "point", "opacity": 0},
 "encoding": {
  "x": {"field": "x", "type": "quantitative", "scale": {"domain": [-1.791, 1.735], "nice": false, "zero": false}, "axis": {"orient": "top", "values": [-1.76,-1.68,-1.6,-1.52,-1.44,-1.36,-1.28,-1.2,-1.12,-1.04,-0.96,-0.88,-0.8,-0.72,-0.64,-0.56,-0.48,-0.4,-0.32,-0.24,-0.16,-0.08,0,0.08,0.16,0.24,0.32,0.4,0.48,0.56,0.64,0.72,0.8,0.88,0.96,1.04,1.12,1.2,1.28,1.36,1.44,1.52,1.6,1.68], "labels": false, "grid": false, "domain": false, "title": null, "tickSize": 3.5}},
  "y": {"field": "y", "type": "quantitative", "scale": {"domain": [0, 1.1338], "nice": false, "zero": false}, "axis": {"orient": "right", "values": [0,0.0625,0.125,0.1875,0.25,0.3125,0.375,0.4375,0.5,0.5625,0.625,0.6875,0.75,0.8125,0.875,0.9375,1,1.0625,1.125], "labels": false, "grid": false, "domain": false, "title": null, "tickSize": 3.5}}
 }}
]
}
],
"spacing": 122,
"bounds": "flush",
"resolve": {"scale": {"color": "independent"}}
}
],
"config": {
 "font": "DejaVu Sans",
 "view": {"stroke": null},
 "axis": {"labelFont": "DejaVu Sans", "labelFontSize": 20, "labelColor": "black", "titleFont": "DejaVu Sans", "titleFontSize": 20, "titleFontWeight": "normal", "titleColor": "black", "tickColor": "black", "tickSize": 6, "tickWidth": 1, "domainColor": "black", "domainWidth": 1, "gridColor": "#b0b0b0", "gridOpacity": 0.55, "gridWidth": 1, "labelPadding": 5, "labelFlush": false, "labelOverlap": false, "zindex": 1},
 "axisX": {"labelPadding": 6, "titlePadding": 2},
 "axisY": {"titlePadding": 4},
 "legend": {"labelFont": "DejaVu Sans", "labelFontSize": 20, "labelColor": "black", "symbolType": "M-1,-0.381H1V0.381H-1Z", "symbolSize": 1764, "symbolStrokeWidth": 0, "symbolOpacity": 1, "clipHeight": 20, "labelOffset": 17, "rowPadding": 10, "padding": 8, "fillColor": "rgba(255,255,255,0.8)", "strokeColor": "#cccccc", "cornerRadius": 5},
 "title": {"font": "DejaVu Sans", "fontSize": 19, "fontWeight": "normal", "color": "black", "anchor": "middle", "frame": "group", "offset": -4, "baseline": "alphabetic"}
}
}
